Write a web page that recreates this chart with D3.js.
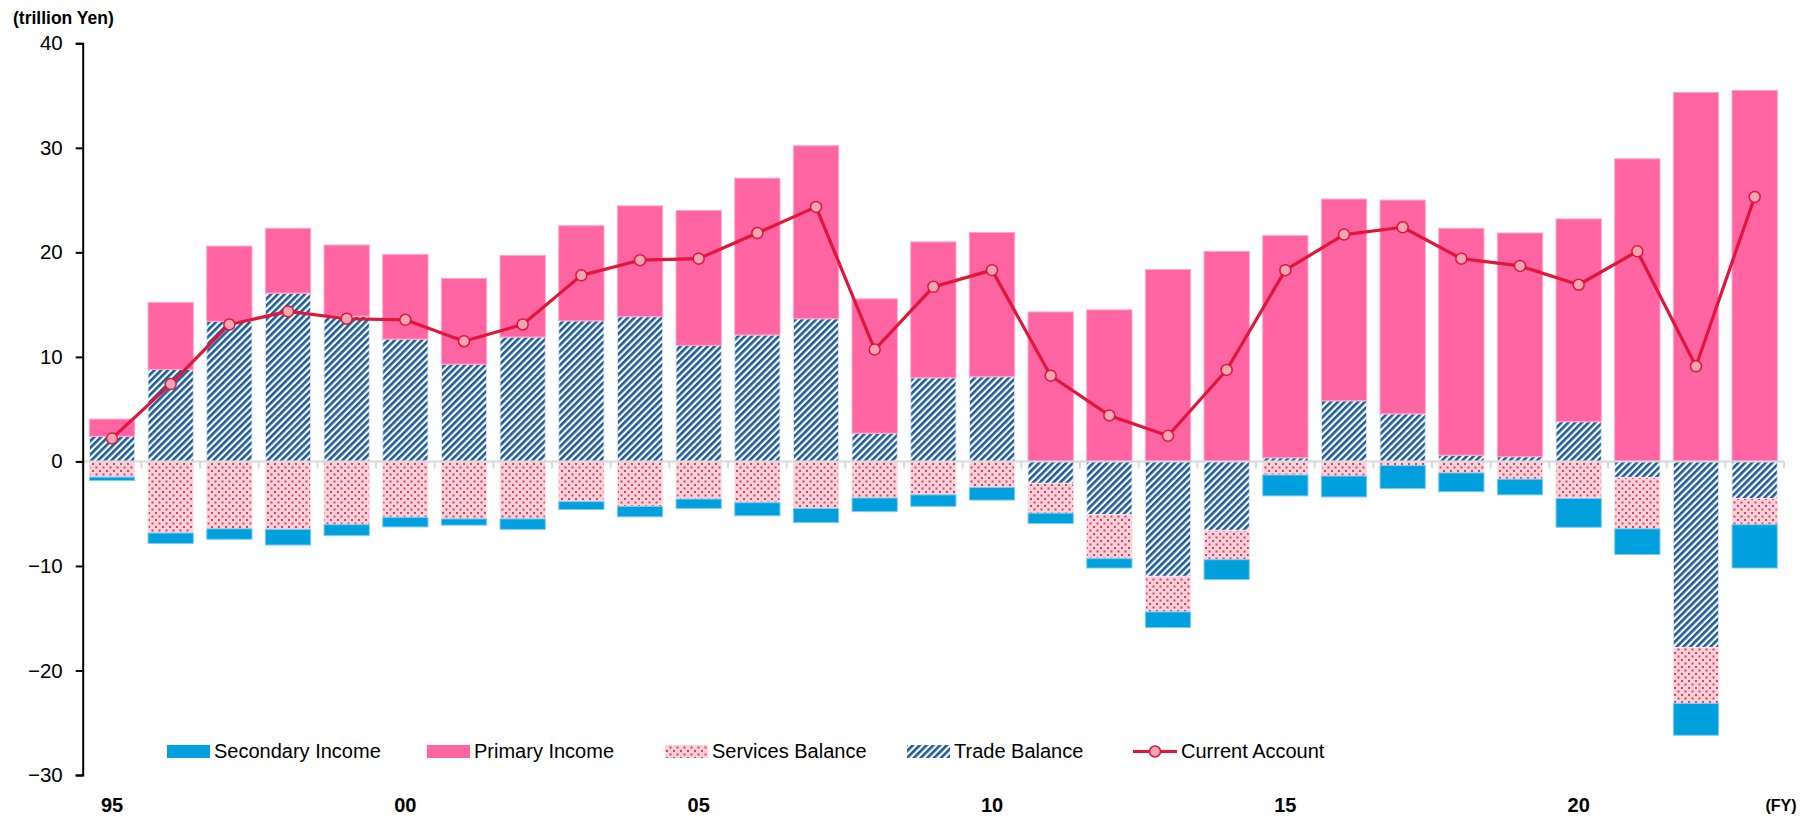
<!DOCTYPE html>
<html>
<head>
<meta charset="utf-8">
<script src="https://cdn.jsdelivr.net/npm/d3@7"></script>
<style>
  html, body { margin:0; padding:0; background:#fff; }
  svg { display:block; font-family:"Liberation Sans", Arial, sans-serif; }
</style>
</head>
<body>
<div id="chart"></div>
<script>
// fiscal years and the four balances (trillion yen)
const years = [1995,1996,1997,1998,1999,2000,2001,2002,2003,2004,2005,2006,2007,2008,2009,
               2010,2011,2012,2013,2014,2015,2016,2017,2018,2019,2020,2021,2022,2023];

const tradeBal = [2.4, 8.8, 13.4, 16.1, 13.9, 11.7, 9.3, 11.9, 13.45, 13.85, 11.1, 12.1, 13.65, 2.7, 8.0,
                  8.1, -2.1, -5.1, -11.0, -6.6, 0.35, 5.8, 4.55, 0.6, 0.45, 3.8, -1.55, -17.8, -3.55];
const servicesBal = [-1.5, -6.85, -6.45, -6.5, -6.05, -5.35, -5.5, -5.5, -3.85, -4.3, -3.6, -3.95, -4.5, -3.5, -3.2,
                     -2.5, -2.85, -4.2, -3.4, -2.8, -1.3, -1.4, -0.4, -1.1, -1.7, -3.55, -4.9, -5.35, -2.5];
const primaryInc = [1.65, 6.4, 7.2, 6.2, 6.8, 8.1, 8.2, 7.8, 9.1, 10.6, 12.9, 15.0, 16.55, 12.85, 13.0,
                    13.8, 14.3, 14.5, 18.35, 20.1, 21.25, 19.3, 20.45, 21.7, 21.4, 19.4, 28.95, 35.3, 35.5];
const secondaryInc = [-0.33, -1.0, -1.0, -1.5, -1.05, -0.92, -0.6, -1.0, -0.75, -1.0, -0.9, -1.25, -1.35, -1.3, -1.1,
                      -1.2, -1.0, -0.9, -1.5, -1.9, -2.0, -2.0, -2.2, -1.8, -1.5, -2.75, -2.45, -3.05, -4.15];
const currentAcc = [2.2, 7.4, 13.1, 14.35, 13.65, 13.55, 11.5, 13.1, 17.8, 19.25, 19.4, 21.85, 24.35, 10.7, 16.7,
                    18.3, 8.2, 4.4, 2.45, 8.75, 18.3, 21.7, 22.4, 19.4, 18.7, 16.9, 20.1, 9.1, 25.3];

const yTicks = [-30, -20, -10, 0, 10, 20, 30, 40];
const xLabelYears = [1995, 2000, 2005, 2010, 2015, 2020];

// legend order as in the picture; stack order (closest to zero first) differs
const legendKeys = ["Secondary Income", "Primary Income", "Services Balance", "Trade Balance"];
const stackKeys = ["Trade Balance", "Services Balance", "Primary Income", "Secondary Income"];

const W = 1813, H = 820;
const svg = d3.select("#chart").append("svg").attr("width", W).attr("height", H);

const rows = years.map((yr, i) => ({
  year: yr,
  "Trade Balance": tradeBal[i],
  "Services Balance": servicesBal[i],
  "Primary Income": primaryInc[i],
  "Secondary Income": secondaryInc[i]
}));

const x = d3.scaleBand().domain(years).range([82.7, 1784]).paddingInner(0.228).paddingOuter(0.114);
const y = d3.scaleLinear().domain([-30, 40]).range([775, 43.3]);

// patterns for trade (stripes) and services (dots)
const defs = svg.append("defs");
const stripe = defs.append("pattern").attr("id","stripes").attr("patternUnits","userSpaceOnUse")
  .attr("width",4.8).attr("height",4.8).attr("patternTransform","rotate(45)");
stripe.append("rect").attr("width",4.8).attr("height",4.8).attr("fill","#fff");
stripe.append("rect").attr("width",2.6).attr("height",4.8).attr("fill","#1a5b9e");

const dots = defs.append("pattern").attr("id","dots").attr("patternUnits","userSpaceOnUse")
  .attr("width",7).attr("height",7);
dots.append("rect").attr("width",7).attr("height",7).attr("fill","#fbd2d9");
dots.append("rect").attr("x",1).attr("y",1).attr("width",2).attr("height",2).attr("fill","#e63a57");
dots.append("rect").attr("x",4.5).attr("y",4.5).attr("width",2).attr("height",2).attr("fill","#e63a57");

const fills = {
  "Secondary Income": "#009fde",
  "Primary Income": "#ff65a3",
  "Services Balance": "url(#dots)",
  "Trade Balance": "url(#stripes)"
};
const strokes = {
  "Secondary Income": "#7fcdf0",
  "Primary Income": "#ffa6c9",
  "Services Balance": "#fde3e8",
  "Trade Balance": "#dfe9f4"
};

const series = d3.stack().keys(stackKeys).offset(d3.stackOffsetDiverging)(rows);

const gBars = svg.append("g");
series.forEach(s => {
  gBars.append("g").selectAll("rect")
    .data(s.filter(d => d[0] !== d[1])).enter().append("rect")
    .attr("x", d => x(d.data.year))
    .attr("width", x.bandwidth())
    .attr("y", d => y(Math.max(d[0], d[1])))
    .attr("height", d => Math.abs(y(d[0]) - y(d[1])))
    .attr("fill", fills[s.key])
    .attr("stroke", strokes[s.key])
    .attr("stroke-width", 1);
});

// zero line with category ticks
const zero = svg.append("g").attr("transform", `translate(0,${y(0)})`);
zero.append("line").attr("x1", x.range()[0]).attr("x2", x.range()[1])
  .attr("stroke","#d9d9d9").attr("stroke-width",2);
const bounds = years.map(yr => x(yr) - x.step()*x.paddingInner()/2).concat([x.range()[1]]);
zero.selectAll(".bt").data(bounds).enter().append("line")
  .attr("x1", d => d).attr("x2", d => d).attr("y1", 0).attr("y2", 7)
  .attr("stroke","#d9d9d9").attr("stroke-width",2);

// y axis
const gy = svg.append("g").attr("transform", `translate(${x.range()[0]},0)`)
  .call(d3.axisLeft(y).tickValues(yTicks).tickSize(7).tickPadding(13).tickFormat(d3.format("d")));
gy.select(".domain").attr("stroke","#000").attr("stroke-width",2);
gy.selectAll(".tick line").attr("stroke","#000").attr("stroke-width",2);
gy.selectAll(".tick text").attr("font-size",20.5).attr("fill","#000")
  .attr("font-family","'Liberation Sans', Arial, sans-serif");

// current account line
const line = d3.line().x((d,i) => x(years[i]) + x.bandwidth()/2).y(d => y(d));
svg.append("path").datum(currentAcc).attr("d", line)
  .attr("fill","none").attr("stroke","#e0163a").attr("stroke-width",3.2).attr("stroke-linejoin","round");
svg.append("g").selectAll("circle").data(currentAcc).enter().append("circle")
  .attr("cx", (d,i) => x(years[i]) + x.bandwidth()/2)
  .attr("cy", d => y(d))
  .attr("r", 5.5)
  .attr("fill","#f4a7b2").attr("stroke","#e0163a").attr("stroke-width",1.5);

// x labels
svg.append("g").selectAll("text").data(xLabelYears).enter().append("text")
  .attr("x", d => x(d) + x.bandwidth()/2).attr("y", 812)
  .attr("text-anchor","middle").attr("font-size",20).attr("font-weight","bold")
  .text(d => String(d).slice(2));
svg.append("text").attr("x",1781).attr("y",811).attr("text-anchor","middle")
  .attr("font-size",16).attr("font-weight","bold").text("(FY)");

svg.append("text").attr("x",13).attr("y",24).attr("font-size",17.5).attr("font-weight","bold")
  .text("(trillion Yen)");

// legend
const legX = [167, 427, 665, 907];
const lg = svg.append("g");
legendKeys.forEach((k,i) => {
  lg.append("rect").attr("x", legX[i]).attr("y", 745).attr("width", 43).attr("height", 13)
    .attr("fill", fills[k]);
  lg.append("text").attr("x", legX[i] + 47).attr("y", 758).attr("font-size", 20).text(k);
});
lg.append("line").attr("x1",1133).attr("x2",1177).attr("y1",751.5).attr("y2",751.5)
  .attr("stroke","#e0163a").attr("stroke-width",3.2);
lg.append("circle").attr("cx",1155).attr("cy",751.5).attr("r",5.5)
  .attr("fill","#f4a7b2").attr("stroke","#e0163a").attr("stroke-width",1.5);
lg.append("text").attr("x",1181).attr("y",758).attr("font-size",20).text("Current Account");
</script>
</body>
</html>
